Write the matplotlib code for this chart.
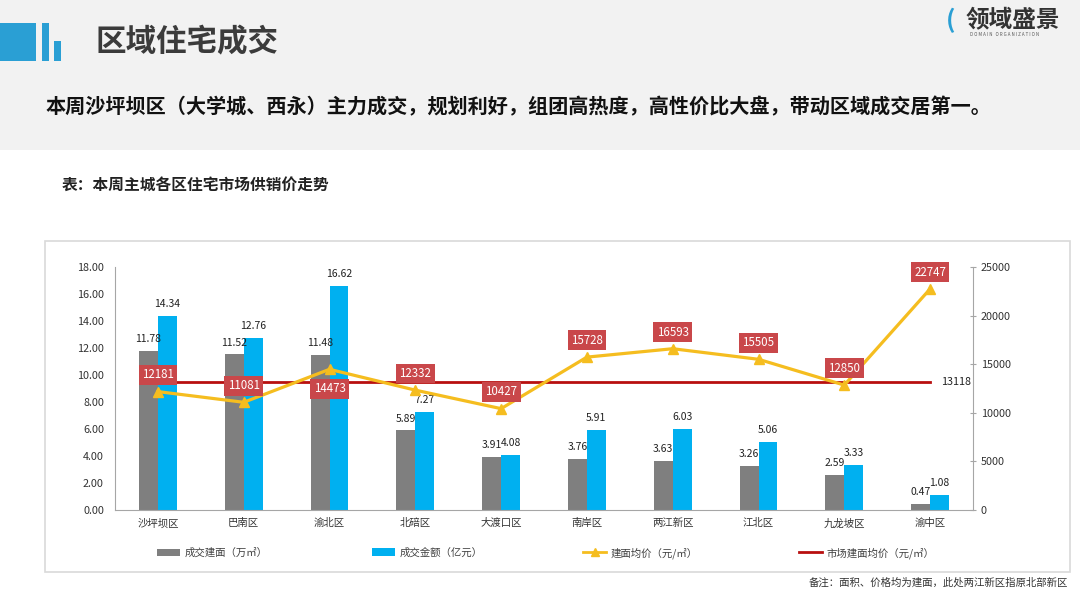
"""Weekly residential transactions by district: bars for area and amount, lines for price."""
import matplotlib
matplotlib.use("Agg")
import matplotlib.pyplot as plt
from matplotlib.patches import Rectangle, Patch
from matplotlib.lines import Line2D
import numpy as np

plt.rcParams['font.family'] = ['Noto Sans CJK SC', 'DejaVu Sans']

# data
districts = ['沙坪坝区', '巴南区', '渝北区', '北碚区', '大渡口区',
             '南岸区', '两江新区', '江北区', '九龙坡区', '渝中区']
area = [11.78, 11.52, 11.48, 5.89, 3.91, 3.76, 3.63, 3.26, 2.59, 0.47]
amount = [14.34, 12.76, 16.62, 7.27, 4.08, 5.91, 6.03, 5.06, 3.33, 1.08]
price = [12181, 11081, 14473, 12332, 10427, 15728, 16593, 15505, 12850, 22747]
market_price = 13118
left_ticks = [0, 2, 4, 6, 8, 10, 12, 14, 16, 18]
right_ticks = [0, 5000, 10000, 15000, 20000, 25000]

GRAY = '#7f7f7f'
BLUE = '#00b0f0'
YELLOW = '#f5bd1f'
RED = '#b80f0f'
LABEL_RED = '#c9474a'

fig = plt.figure(figsize=(10.8, 6.08), dpi=100)
fig.patch.set_facecolor('white')

# header band
fig.patches.append(Rectangle((0, 1 - 150 / 608), 1, 150 / 608, transform=fig.transFigure,
                             facecolor='#f2f2f2', edgecolor='none', zorder=-2))
# header icon
icon = '#2a9fd4'
for x0, y0, w, h in [(0, 23, 36, 38), (42, 23, 7, 38), (54, 41, 7, 20)]:
    fig.patches.append(Rectangle((x0 / 1080, 1 - (y0 + h) / 608), w / 1080, h / 608,
                                 transform=fig.transFigure, facecolor=icon,
                                 edgecolor='none', zorder=-1))
fig.text(96 / 1080, 1 - 42 / 608, '区域住宅成交', fontsize=22, fontweight='bold',
         color='#3b3b3b', va='center', ha='left')

# logo
fig.text(946 / 1080, 1 - 20 / 608, '(', fontsize=18, fontweight='bold', color='#2a9fd4',
         va='center', ha='left')
fig.text(966 / 1080, 1 - 19 / 608, '领域盛景', fontsize=17, fontweight='bold',
         color='#333333', va='center', ha='left')
fig.text(970 / 1080, 1 - 35 / 608, 'D O M A I N   O R G A N I Z A T I O N', fontsize=3.2,
         color='#555555', va='center', ha='left')

fig.text(45 / 1080, 1 - 107 / 608,
         '本周沙坪坝区（大学城、西永）主力成交，规划利好，组团高热度，高性价比大盘，带动区域成交居第一。',
         fontsize=14.5, fontweight='bold', color='#111111', va='center', ha='left')

fig.text(62 / 1080, 1 - 185 / 608, '表：本周主城各区住宅市场供销价走势', fontsize=11.3,
         fontweight='bold', color='#222222', va='center', ha='left')

# chart frame
fig.patches.append(Rectangle((45 / 1080, 1 - 572 / 608), 1025 / 1080, 331 / 608,
                             transform=fig.transFigure, facecolor='white',
                             edgecolor='#d9d9d9', lw=1.2, zorder=-1))

ax = fig.add_axes([115 / 1080, 1 - 510 / 608, 858 / 1080, 243 / 608])
ax.set_facecolor('none')
x = np.arange(len(districts))
w = 0.22
ax.bar(x - w / 2, area, w, color=GRAY, zorder=2)
ax.bar(x + w / 2, amount, w, color=BLUE, zorder=2)
for i in range(len(districts)):
    ax.annotate(f'{area[i]:.2f}', (x[i] - w / 2, area[i]), xytext=(0, 5),
                textcoords='offset points', ha='center', va='bottom', fontsize=7.5, color='#222222')
    ax.annotate(f'{amount[i]:.2f}', (x[i] + w / 2, amount[i]), xytext=(0, 5),
                textcoords='offset points', ha='center', va='bottom', fontsize=7.5, color='#222222')

ax.set_xlim(-0.5, len(districts) - 0.5)
ax.set_ylim(0, 18)
ax.set_yticks(left_ticks)
ax.set_yticklabels([f'{t:.2f}' for t in left_ticks])
ax.set_xticks(x)
ax.set_xticklabels(districts)
ax.tick_params(axis='y', length=0, labelsize=7.8, labelcolor='#333333', pad=8)
ax.tick_params(axis='x', length=0, labelsize=7.5, labelcolor='#333333', pad=6)
for s in ['top', 'right']:
    ax.spines[s].set_visible(False)
ax.spines['left'].set_color('#a6a6a6')
ax.spines['bottom'].set_color('#a6a6a6')

ax2 = ax.twinx()
ax2.set_ylim(0, 25000)
ax2.set_yticks(right_ticks)
ax2.tick_params(axis='y', length=4, direction='inout', labelsize=7.8,
                labelcolor='#333333', color='#a6a6a6')
for s in ['top', 'left', 'bottom']:
    ax2.spines[s].set_visible(False)
ax2.spines['right'].set_color('#a6a6a6')

ax2.plot(x, [market_price] * len(x), color=RED, lw=2, zorder=3)
ax2.plot(x, price, color=YELLOW, lw=2.3, marker='^', markersize=7, zorder=4)
ax2.annotate(str(market_price), (x[-1], market_price), xytext=(8, 0),
             textcoords='offset points', ha='left', va='center', fontsize=7.8, color='#222222')
for i, p in enumerate(price):
    dy = -14 if i == 2 else 12
    ax2.annotate(str(p), (x[i], p), xytext=(0, dy), textcoords='offset points',
                 ha='center', va='center', fontsize=8.3, color='white', zorder=5,
                 bbox=dict(boxstyle='square,pad=0.3', facecolor=LABEL_RED, edgecolor='none'))

# legend, four separate entries across the bottom of the frame
entries = [
    (Patch(facecolor=GRAY), '成交建面（万㎡）', 152),
    (Patch(facecolor=BLUE), '成交金额（亿元）', 367),
    (Line2D([], [], color=YELLOW, lw=2, marker='^', markersize=6), '建面均价（元/㎡）', 578),
    (Line2D([], [], color=RED, lw=2), '市场建面均价（元/㎡）', 794),
]
for handle, label, px in entries:
    fig.legend([handle], [label], loc='center left', bbox_to_anchor=(px / 1080, 1 - 553 / 608),
               frameon=False, fontsize=7.5, handlelength=2.2, handleheight=0.8,
               handletextpad=0.4, borderpad=0, labelcolor='#404040')

fig.text(1068 / 1080, 1 - 582 / 608, '备注：面积、价格均为建面，此处两江新区指原北部新区',
         fontsize=7.5, color='#333333', ha='right', va='center')

fig.savefig('out.png', dpi=100, facecolor='white')
